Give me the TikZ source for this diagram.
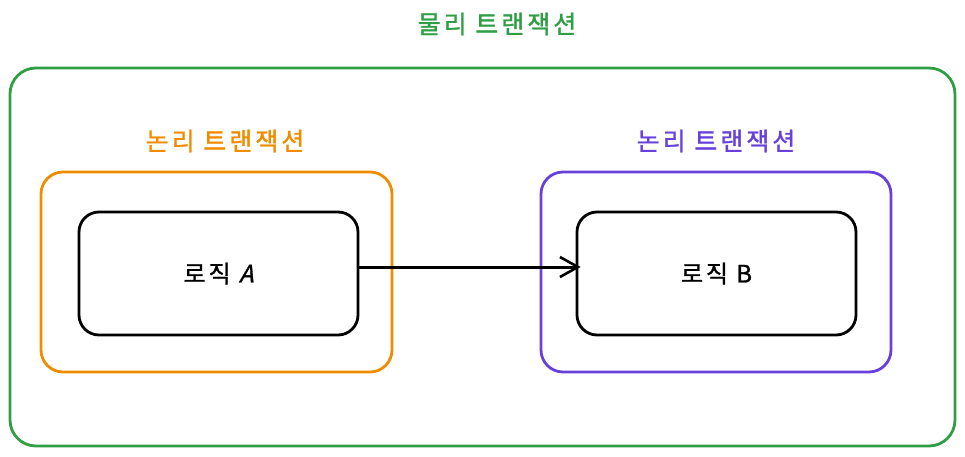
\documentclass[tikz,border=0pt]{standalone}
\usepackage{fontspec}
\setmainfont{Noto Sans CJK KR}
\newfontfamily\lblfont[LetterSpace=12,FakeBold=1.2]{Noto Sans CJK KR}
\newfontfamily\slantfont[FakeSlant=0.25,FakeBold=1.2]{Noto Sans CJK KR}
\usetikzlibrary{arrows.meta}
\definecolor{cgreen}{HTML}{2F9E44}
\definecolor{corange}{HTML}{F08C00}
\definecolor{cpurple}{HTML}{6741D9}
\tikzset{
  frame/.style={draw, line width=2.8pt, rounded corners=#1},
  lbl/.style={font=\lblfont\fontsize{25}{28}\selectfont},
  logic/.style={draw=black, line width=2.8pt, rounded corners=20pt, minimum width=279pt, minimum height=123pt, font=\lblfont\fontsize{24}{28}\selectfont, inner sep=0pt},
}
\begin{document}
\begin{tikzpicture}[x=1pt,y=-1pt]
\useasboundingbox (0,0) rectangle (965,457);
\draw[frame=26pt, cgreen] (10,68) rectangle (955,446);
\node[lbl, text=cgreen] (tp) at (497,24) {물리 트랜잭션};
\draw[frame=22pt, corange] (41,172) rectangle (392,372);
\node[lbl, text=corange] (tl1) at (225,141) {논리 트랜잭션};
\draw[frame=22pt, cpurple] (541,172) rectangle (891,372);
\node[lbl, text=cpurple] (tl2) at (716,141) {논리 트랜잭션};
\node[logic] (a) at (218.5,273.5) {로직 {\slantfont A}};
\node[logic] (b) at (716.5,273.5) {로직 B};
\coordinate (s) at ([yshift=6.5pt]a.east);
\coordinate (e) at ([yshift=6.5pt,xshift=5pt]b.west);
\draw[line width=3pt, -{Straight Barb[length=18pt,width=20pt,line width=2.6pt]}] (s) -- (e);
\end{tikzpicture}
\end{document}
